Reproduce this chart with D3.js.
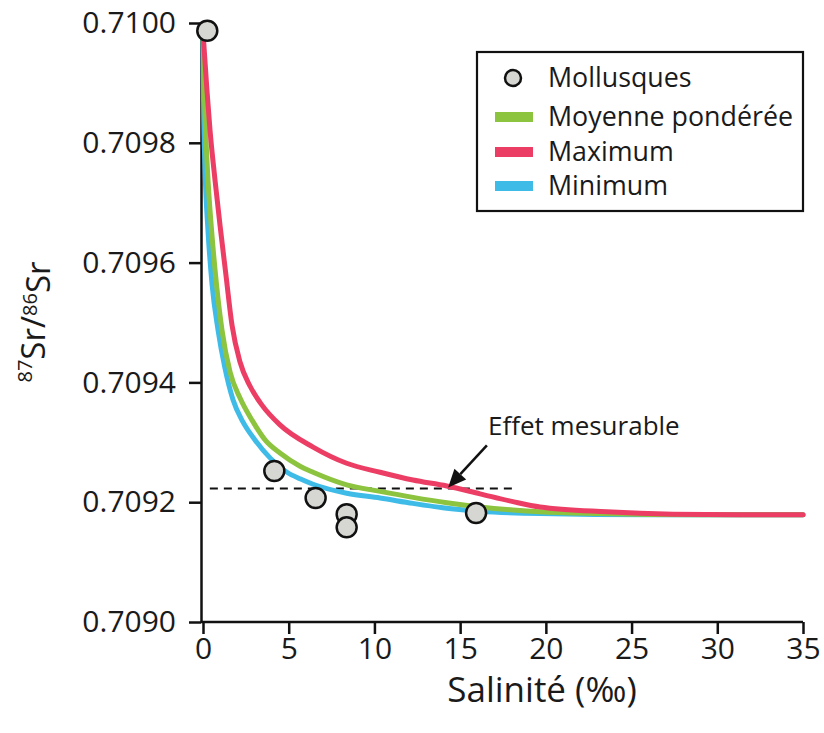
<!DOCTYPE html>
<html>
<head>
<meta charset="utf-8">
<script src="https://cdn.jsdelivr.net/npm/d3@7/dist/d3.min.js"></script>
<style>
  html, body { margin: 0; padding: 0; background: #ffffff; }
  svg { display: block; font-family: "Open Sans", "Noto Sans", sans-serif; }
</style>
</head>
<body>
<svg id="chart" width="824" height="733"></svg>
<script>
// Salinity (‰) and 87Sr/86Sr of the mollusc shells
const molluscSalinity = [0.25, 4.16, 6.57, 8.38, 8.38, 15.93];
const molluscRatio    = [0.709987, 0.709252, 0.709207, 0.709180, 0.709158, 0.709182];

// Mixing curve, weighted mean
const meanSalinity = [0, 0.09, 0.26, 0.50, 0.79, 1.11, 1.58, 2.16, 2.86, 3.62, 4.49, 5.66, 6.42, 8.38, 10.33, 12.25, 14.22, 16.16, 18.08, 19.66, 23.16, 28.99, 35];
const meanRatio    = [0.709985, 0.709871, 0.709755, 0.709654, 0.709563, 0.709487, 0.709417, 0.709374, 0.709337, 0.709304, 0.709282, 0.709260, 0.709250, 0.709229, 0.709218, 0.709208, 0.709199, 0.709192, 0.709187, 0.709184, 0.709181, 0.709179, 0.709179];

// Mixing curve, maximum
const maxSalinity = [0, 0.23, 0.41, 0.70, 0.99, 1.34, 1.69, 2.16, 2.74, 3.44, 4.49, 6.42, 8.38, 10.33, 12.25, 14.22, 16.16, 18.08, 19.66, 23.55, 27.42, 31.33, 35];
const maxRatio    = [0.709985, 0.709888, 0.709821, 0.709738, 0.709663, 0.709579, 0.709496, 0.709434, 0.709394, 0.709362, 0.709329, 0.709292, 0.709265, 0.709250, 0.709237, 0.709227, 0.709214, 0.709201, 0.709192, 0.709184, 0.709180, 0.709179, 0.709179];

// Mixing curve, minimum
const minSalinity = [0, 0.03, 0.12, 0.29, 0.53, 0.88, 1.28, 1.75, 2.33, 3.03, 3.91, 4.90, 5.66, 6.42, 8.38, 10.33, 12.25, 14.22, 16.16, 19.66, 26.07, 35];
const minRatio    = [0.709985, 0.709871, 0.709755, 0.709654, 0.709563, 0.709487, 0.709424, 0.709371, 0.709334, 0.709304, 0.709274, 0.709250, 0.709239, 0.709230, 0.709215, 0.709207, 0.709198, 0.709190, 0.709185, 0.709181, 0.709179, 0.709179];

// Detection threshold ("Effet mesurable")
const thresholdRatio = 0.709223;
const thresholdSalinity = [0.4, 18.2];

const xTicks = [0, 5, 10, 15, 20, 25, 30, 35];
const yTicks = [0.7090, 0.7092, 0.7094, 0.7096, 0.7098, 0.7100];

const legendLabels = ["Mollusques", "Moyenne pondérée", "Maximum", "Minimum"];
const colors = { mean: "#8cc43f", max: "#ec3d64", min: "#3fbbe8" };

const svg = d3.select("#chart");

const x = d3.scaleLinear().domain([0, 35]).range([203, 803]);
const y = d3.scaleLinear().domain([0.7090, 0.7100]).range([622, 23]);
const axisX0 = 201;

// Axes
const gx = svg.append("g")
  .attr("transform", `translate(0,${y(0.7090)})`)
  .call(d3.axisBottom(x).tickValues(xTicks).tickSize(12).tickSizeOuter(0).tickPadding(4));
gx.select(".domain").attr("d", `M${axisX0},0H${x(35)}`);

const gy = svg.append("g")
  .attr("transform", `translate(${axisX0},0)`)
  .call(d3.axisLeft(y).tickValues(yTicks).tickFormat(d3.format(".4f")).tickSize(12).tickSizeOuter(0).tickPadding(13));

[gx, gy].forEach(g => {
  g.selectAll("path, line").attr("stroke", "#111").attr("stroke-width", 2.5);
  g.selectAll("text").attr("fill", "#1a1a1a").style("font-size", "30px").style("font-family", "'Open Sans', sans-serif");
});

// Axis titles
svg.append("text")
  .attr("x", 542).attr("y", 702)
  .attr("text-anchor", "middle")
  .attr("fill", "#1a1a1a")
  .style("font-size", "35px")
  .text("Salinité (‰)");

const yl = svg.append("text")
  .attr("transform", "translate(40,322) rotate(-90)")
  .attr("text-anchor", "middle")
  .attr("fill", "#1a1a1a")
  .style("font-size", "33px");
yl.append("tspan").attr("dy", "-0.4em").style("font-size", "20px").text("87");
yl.append("tspan").attr("dy", "0.4em").text("Sr/");
yl.append("tspan").attr("dy", "-0.4em").style("font-size", "20px").text("86");
yl.append("tspan").attr("dy", "0.4em").text("Sr");

// Threshold line
svg.append("line")
  .attr("x1", x(thresholdSalinity[0])).attr("x2", x(thresholdSalinity[1]))
  .attr("y1", y(thresholdRatio)).attr("y2", y(thresholdRatio))
  .attr("stroke", "#111").attr("stroke-width", 2).attr("stroke-dasharray", "8,6");

// Mixing curves
const line = d3.line().x(d => x(d[0])).y(d => y(d[1])).curve(d3.curveMonotoneX);
const curves = [
  { s: minSalinity, r: minRatio, c: colors.min },
  { s: meanSalinity, r: meanRatio, c: colors.mean },
  { s: maxSalinity, r: maxRatio, c: colors.max }
];
curves.forEach(cv => {
  svg.append("path")
    .datum(cv.s.map((v, i) => [v, cv.r[i]]))
    .attr("d", line)
    .attr("fill", "none")
    .attr("stroke", cv.c)
    .attr("stroke-width", 5)
    .attr("stroke-linejoin", "round")
    .attr("stroke-linecap", "round");
});

// Mollusc samples
svg.append("g").selectAll("circle")
  .data(molluscSalinity.map((v, i) => [v, molluscRatio[i]]))
  .join("circle")
  .attr("cx", d => x(d[0])).attr("cy", d => y(d[1]))
  .attr("r", 10)
  .attr("fill", "#d6d6d2")
  .attr("stroke", "#111")
  .attr("stroke-width", 2.5);

// Annotation arrow
const tip = [x(14.3), y(thresholdRatio) - 1];
const tail = [x(16.56), y(0.709295)];
const ang = Math.atan2(tip[1] - tail[1], tip[0] - tail[0]);
const headLen = 18, headW = 8;
const base = [tip[0] - headLen * Math.cos(ang), tip[1] - headLen * Math.sin(ang)];
svg.append("line")
  .attr("x1", tail[0]).attr("y1", tail[1])
  .attr("x2", base[0]).attr("y2", base[1])
  .attr("stroke", "#111").attr("stroke-width", 2.5);
svg.append("path")
  .attr("d", `M${tip[0]},${tip[1]}L${base[0] + headW * Math.sin(ang)},${base[1] - headW * Math.cos(ang)}L${base[0] - headW * Math.sin(ang)},${base[1] + headW * Math.cos(ang)}Z`)
  .attr("fill", "#111");
svg.append("text")
  .attr("x", 488).attr("y", 435)
  .attr("fill", "#1a1a1a")
  .style("font-size", "26px")
  .text("Effet mesurable");

// Legend
const lg = svg.append("g");
lg.append("rect")
  .attr("x", 477).attr("y", 52).attr("width", 326).attr("height", 159)
  .attr("fill", "#fff").attr("stroke", "#111").attr("stroke-width", 2.2);
const rowY = [78, 117, 152, 186];
lg.append("circle")
  .attr("cx", 513).attr("cy", rowY[0]).attr("r", 8)
  .attr("fill", "#d6d6d2").attr("stroke", "#111").attr("stroke-width", 2.5);
[colors.mean, colors.max, colors.min].forEach((c, i) => {
  lg.append("rect")
    .attr("x", 495).attr("y", rowY[i + 1] - 5).attr("width", 38).attr("height", 10)
    .attr("fill", c);
});
legendLabels.forEach((t, i) => {
  lg.append("text")
    .attr("x", 548).attr("y", rowY[i] + 9)
    .attr("fill", "#1a1a1a")
    .style("font-size", "26.8px")
    .text(t);
});
</script>
</body>
</html>
